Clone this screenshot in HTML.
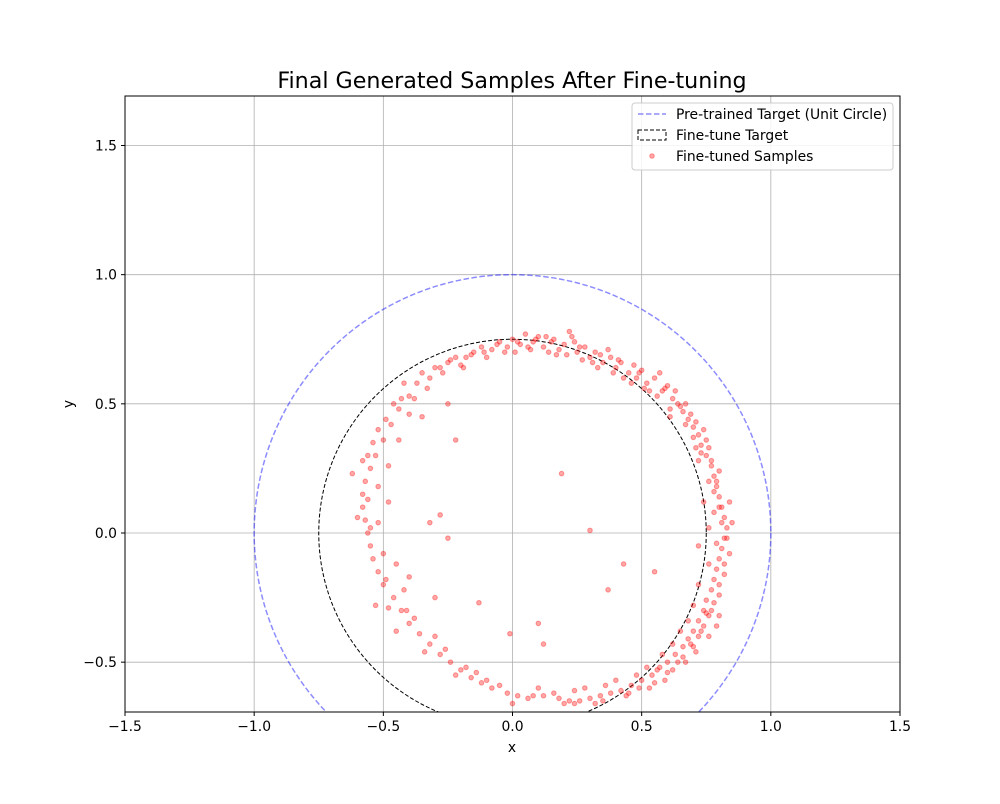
<!DOCTYPE html>
<html><head><meta charset="utf-8"><style>
body{margin:0;background:#fff;font-family:"DejaVu Sans",sans-serif}
</style></head><body>
<svg id="chart" width="1000" height="800" xmlns="http://www.w3.org/2000/svg" font-family="DejaVu Sans, sans-serif">
<rect width="1000" height="800" fill="#fff"/>
<defs><clipPath id="clip"><rect x="125" y="96" width="775" height="616"/></clipPath></defs>
<g id="grid"></g>
<g id="marks" clip-path="url(#clip)"></g>
<rect x="125" y="96" width="775" height="616" fill="none" stroke="#000" stroke-width="1"/>
<g id="axes" font-size="13.9"></g>
<text x="512" y="88" text-anchor="middle" font-size="22.2">Final Generated Samples After Fine-tuning</text>
<text x="512" y="752" text-anchor="middle" font-size="13.9">x</text>
<text x="73" y="404" text-anchor="middle" font-size="13.9" transform="rotate(-90 73 404)">y</text>
<g>
<rect x="632" y="103" width="261" height="67" rx="3" fill="#fff" fill-opacity="0.85" stroke="#ccc"/>
<line x1="638" y1="114" x2="666" y2="114" stroke="#0000ff" stroke-opacity="0.45" stroke-width="1.5" stroke-dasharray="5.5,2.5"/>
<text x="676" y="119" font-size="13.9">Pre-trained Target (Unit Circle)</text>
<rect x="638" y="130" width="28" height="10" fill="none" stroke="#000" stroke-width="1" stroke-dasharray="4,2"/>
<text x="676" y="140" font-size="13.9">Fine-tune Target</text>
<circle cx="652" cy="156" r="2.3" fill="#ff0000" fill-opacity="0.35" stroke="#ff0000" stroke-opacity="0.35"/>
<text x="676" y="161" font-size="13.9">Fine-tuned Samples</text>
</g>
</svg>
<script>
const xTicks=[-1.5,-1.0,-0.5,0.0,0.5,1.0,1.5];
const yTicks=[-0.5,0.0,0.5,1.0,1.5];
const circleRadii=[1.0,0.75];
const sampleX=[-0.35,-0.3,-0.25,-0.22,-0.2,-0.15,-0.12,-0.1,-0.05,-0.02,0,0.03,0.05,0.08,0.1,0.12,0.15,0.18,0.2,0.22,0.25,0.28,0.3,0.32,0.35,0.38,0.4,0.42,0.45,0.48,0.5,0.52,0.55,0.58,0.6,0.62,0.64,0.66,0.68,0.7,0.72,0.73,0.75,0.77,0.78,0.79,0.8,0.81,0.82,0.83,0.82,0.81,0.8,0.79,0.78,0.77,0.75,0.74,0.72,0.7,0.68,0.66,0.63,0.6,0.57,0.54,0.5,0.46,0.42,0.38,0.34,0.3,0.26,0.22,0.18,0.12,0.08,0.02,-0.02,-0.08,-0.12,-0.16,-0.2,-0.24,-0.28,-0.32,-0.36,-0.4,-0.43,-0.46,-0.5,-0.52,-0.54,-0.55,-0.56,-0.57,-0.58,-0.58,-0.57,-0.55,-0.53,-0.5,-0.47,-0.44,-0.4,-0.37,
-0.32,-0.27,-0.18,-0.08,0.01,0.07,0.13,0.17,0.24,0.27,0.33,0.37,0.43,0.47,0.53,0.57,0.61,0.63,0.67,0.69,0.71,0.74,0.76,0.72,0.76,0.8,0.74,0.84,0.78,0.85,0.76,0.72,0.84,0.76,0.82,0.72,0.8,0.7,0.76,0.68,0.73,0.65,0.7,0.62,0.66,0.58,0.6,0.52,0.55,0.48,0.44,0.36,0.32,0.24,0.2,0.1,0,-0.05,-0.14,-0.22,-0.26,-0.34,-0.38,-0.45,-0.48,-0.42,-0.53,-0.5,-0.45,-0.6,-0.52,-0.62,-0.52,-0.56,-0.48,-0.52,-0.44,-0.46,-0.4,-0.38,-0.33,-0.42,
0.19,0.3,-0.22,-0.25,0.43,0.37,0.55,0.1,0.12,-0.01,-0.13,-0.3,-0.28,-0.4,-0.48,-0.25,-0.32,-0.35,
-0.28,-0.24,-0.19,-0.16,-0.11,-0.06,-0.03,0.02,0.06,0.09,0.14,0.16,0.21,0.23,0.26,0.31,0.34,0.39,0.41,0.46,0.49,0.51,0.56,0.59,0.61,0.65,0.67,0.7,0.71,0.73,0.75,0.77,0.79,0.78,0.8,0.81,0.79,0.83,0.8,0.78,0.82,0.8,0.77,0.79,0.76,0.74,0.75,0.71,0.72,0.69,0.67,0.64,0.62,0.59,0.56,0.53,0.49,0.45,0.4,0.35,0.28,0.24,0.16,0.06,-0.1,-0.18,-0.3,-0.41,-0.49,-0.55,-0.56,-0.58,-0.54,-0.49,-0.43];
const sampleY=[0.62,0.64,0.66,0.68,0.65,0.7,0.72,0.68,0.74,0.72,0.75,0.73,0.77,0.74,0.76,0.72,0.74,0.71,0.73,0.78,0.7,0.72,0.68,0.7,0.66,0.68,0.64,0.66,0.62,0.6,0.63,0.58,0.6,0.55,0.57,0.52,0.5,0.47,0.44,0.41,0.38,0.34,0.3,0.26,0.22,0.18,0.14,0.1,0.06,0.02,-0.02,-0.06,-0.1,-0.14,-0.18,-0.22,-0.26,-0.3,-0.34,-0.38,-0.41,-0.44,-0.47,-0.5,-0.52,-0.55,-0.57,-0.59,-0.61,-0.62,-0.63,-0.64,-0.65,-0.65,-0.64,-0.63,-0.63,-0.63,-0.62,-0.6,-0.58,-0.56,-0.53,-0.5,-0.47,-0.43,-0.39,-0.35,-0.3,-0.25,-0.2,-0.15,-0.1,-0.05,0,0.05,0.1,0.15,0.2,0.25,0.3,0.36,0.42,0.48,0.53,0.58,
0.6,0.62,0.68,0.71,0.7,0.71,0.76,0.69,0.74,0.67,0.64,0.71,0.6,0.65,0.55,0.62,0.48,0.55,0.5,0.46,0.33,0.4,0.33,0.28,0.2,0.24,0.12,0.12,0.08,0.04,0.02,-0.05,-0.08,-0.12,-0.16,-0.2,-0.24,-0.28,-0.32,-0.34,-0.38,-0.38,-0.44,-0.43,-0.48,-0.47,-0.54,-0.52,-0.58,-0.55,-0.63,-0.59,-0.66,-0.61,-0.66,-0.6,-0.66,-0.59,-0.54,-0.55,-0.45,-0.46,-0.33,-0.38,-0.29,-0.22,-0.28,-0.08,-0.12,0.06,0.04,0.23,0.18,0.3,0.26,0.4,0.36,0.5,0.46,0.52,0.56,0.58,
0.23,0.01,0.36,-0.02,-0.12,-0.22,-0.15,-0.35,-0.43,-0.39,-0.27,-0.25,0.07,-0.17,0.12,0.5,0.04,0.45,
0.64,0.67,0.64,0.69,0.7,0.73,0.7,0.74,0.72,0.75,0.7,0.75,0.69,0.76,0.72,0.66,0.69,0.62,0.67,0.58,0.62,0.56,0.53,0.56,0.45,0.49,0.42,0.37,0.43,0.31,0.36,0.28,0.2,0.16,0.1,0.04,-0.04,-0.02,-0.2,-0.27,-0.12,-0.32,-0.3,-0.36,-0.4,-0.36,-0.31,-0.46,-0.4,-0.43,-0.5,-0.5,-0.53,-0.57,-0.53,-0.6,-0.6,-0.62,-0.57,-0.65,-0.6,-0.66,-0.62,-0.64,-0.57,-0.52,-0.4,-0.3,-0.18,0.02,0.13,0.28,0.35,0.44,0.52];
const X0=125,X1=900,xMin=-1.5,xMax=1.5;
const pxPerUnit=(X1-X0)/(xMax-xMin);
const Y0=533;
function sx(v){return X0+(v-xMin)*pxPerUnit;}
function sy(v){return Y0-v*pxPerUnit;}
const NS="http://www.w3.org/2000/svg";
const grid=document.getElementById('grid'),axes=document.getElementById('axes'),marks=document.getElementById('marks');
function mk(tag,attrs,parent){const e=document.createElementNS(NS,tag);for(const k in attrs)e.setAttribute(k,attrs[k]);parent.appendChild(e);return e;}
xTicks.forEach(t=>{
  const x=sx(t);
  const g=mk('line',{x1:x,x2:x,y1:96,y2:712,stroke:'#b0b0b0','stroke-width':0.8},grid);
  
  
  mk('line',{x1:x,x2:x,y1:712,y2:716,stroke:'#000'},axes);
  const l=mk('text',{x:x,y:731,'text-anchor':'middle'},axes);
  l.textContent=t.toFixed(1).replace('-','\u2212');
  
  
});
yTicks.forEach(t=>{
  const y=sy(t);
  const g=mk('line',{x1:125,x2:900,y1:y,y2:y,stroke:'#b0b0b0','stroke-width':0.8},grid);
  
  
  mk('line',{x1:121,x2:125,y1:y,y2:y,stroke:'#000'},axes);
  const l=mk('text',{x:117,y:y+5,'text-anchor':'end'},axes);
  l.textContent=t.toFixed(1).replace('-','\u2212');
  
  
});
const c1=mk('circle',{cx:sx(0),cy:sy(0),r:circleRadii[0]*pxPerUnit,fill:'none',stroke:'#0000ff','stroke-opacity':0.45,'stroke-width':1.5,'stroke-dasharray':'5.5,2.5'},marks);


const c2=mk('circle',{cx:sx(0),cy:sy(0),r:circleRadii[1]*pxPerUnit,fill:'none',stroke:'#000','stroke-width':1,'stroke-dasharray':'4,2'},marks);


for(let i=0;i<sampleX.length;i++){
  const p=mk('circle',{cx:sx(sampleX[i]),cy:sy(sampleY[i]),r:2.3,fill:'#ff0000','fill-opacity':0.35,stroke:'#ff0000','stroke-opacity':0.35},marks);
  
  
}
</script>
</body></html>
